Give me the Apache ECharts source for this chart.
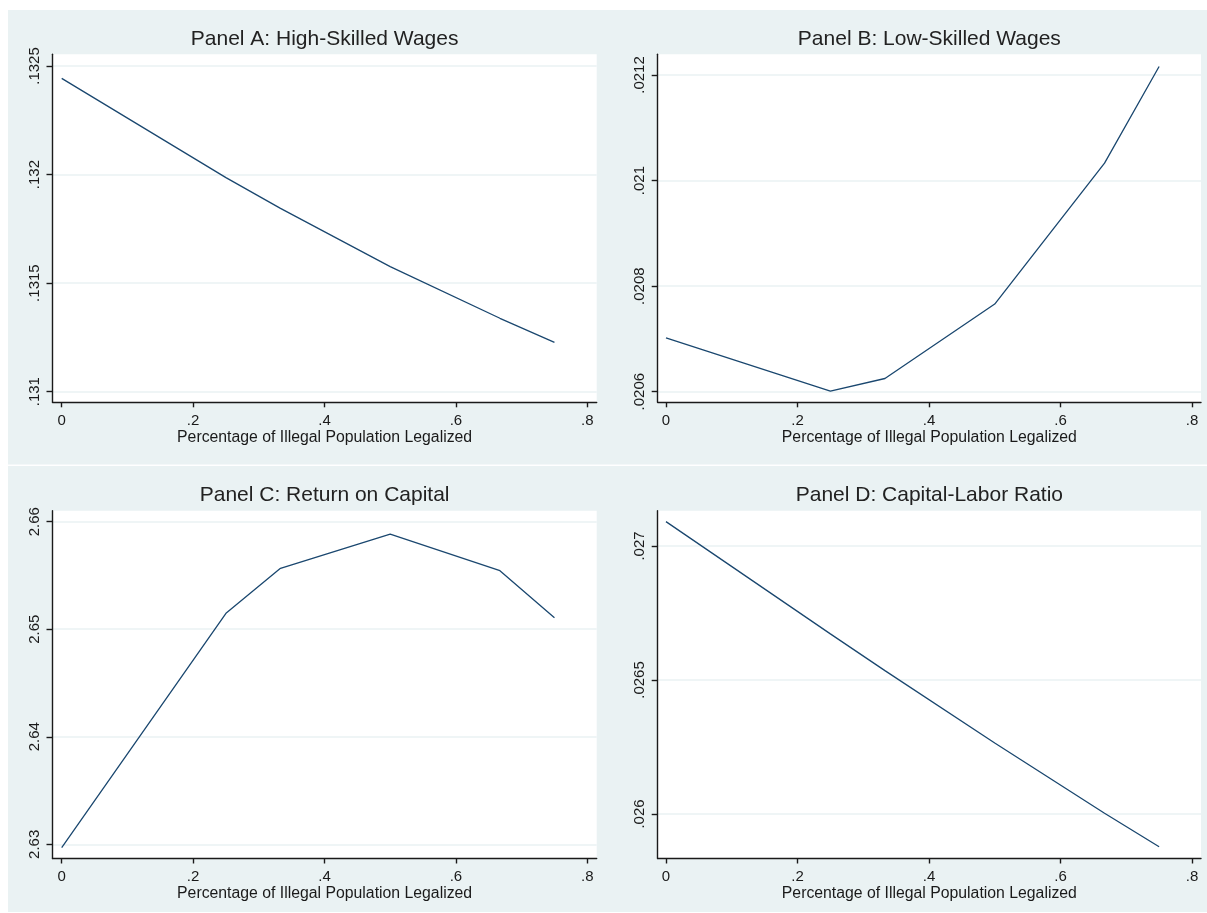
<!DOCTYPE html>
<html>
<head>
<meta charset="utf-8">
<script src="https://cdn.jsdelivr.net/npm/echarts@6/dist/echarts.min.js"></script>
<style>
  html, body { margin: 0; padding: 0; background: #ffffff; }
  #chart { width: 1207px; height: 913px; }
</style>
</head>
<body>
<div id="chart"></div>
<script>
// Share of the illegal population that is legalized
const xValues = [0, 0.25, 0.333, 0.5, 0.667, 0.75];

// Simulated outcomes for each legalization share
const highSkilledWages  = [0.132443, 0.131986, 0.131844, 0.131576, 0.131338, 0.131227];
const lowSkilledWages   = [0.020702, 0.020601, 0.020625, 0.020766, 0.021033, 0.021216];
const returnOnCapital   = [2.62969, 2.65148, 2.65566, 2.65885, 2.65544, 2.65107];
const capitalLaborRatio = [0.027091, 0.026672, 0.026535, 0.026265, 0.026003, 0.025878];

// Tick values and their printed labels
const xTicks = [0, 0.2, 0.4, 0.6, 0.8];
const xTickLabels = ['0', '.2', '.4', '.6', '.8'];
const yTicksA = [0.131, 0.1315, 0.132, 0.1325];
const yLabelsA = ['.131', '.1315', '.132', '.1325'];
const yTicksB = [0.0206, 0.0208, 0.021, 0.0212];
const yLabelsB = ['.0206', '.0208', '.021', '.0212'];
const yTicksC = [2.63, 2.64, 2.65, 2.66];
const yLabelsC = ['2.63', '2.64', '2.65', '2.66'];
const yTicksD = [0.026, 0.0265, 0.027];
const yLabelsD = ['.026', '.0265', '.027'];

const panelTitles = [
  'Panel A: High-Skilled Wages',
  'Panel B: Low-Skilled Wages',
  'Panel C: Return on Capital',
  'Panel D: Capital-Labor Ratio'
];
const xAxisTitle = 'Percentage of Illegal Population Legalized';

// Layout of the 2x2 panel grid (plot regions, in pixels) and padded axis ranges
const panels = [
  { values: highSkilledWages,  ticks: yTicksA, labels: yLabelsA, yMin: 0.130951, yMax: 0.132554,
    left: 52.5, top: 54.3, width: 544.2, height: 348, xMin: -0.0140, xMax: 0.8143 },
  { values: lowSkilledWages,   ticks: yTicksB, labels: yLabelsB, yMin: 0.0205799, yMax: 0.0212392,
    left: 657.7, top: 54.3, width: 543.3, height: 348, xMin: -0.0126, xMax: 0.8137 },
  { values: returnOnCapital,   ticks: yTicksC, labels: yLabelsC, yMin: 2.628679, yMax: 2.661023,
    left: 52.5, top: 510.7, width: 544.2, height: 347.8, xMin: -0.0140, xMax: 0.8143 },
  { values: capitalLaborRatio, ticks: yTicksD, labels: yLabelsD, yMin: 0.025834, yMax: 0.0271317,
    left: 657.7, top: 510.7, width: 543.3, height: 347.8, xMin: -0.0126, xMax: 0.8137 }
];

const BG = '#EAF2F3';
const INK = '#1a1a1a';
const NAVY = '#1A476F';
const FONT = 'Liberation Sans, Arial, sans-serif';

function labelFor(ticks, labels) {
  return function (v) {
    for (let i = 0; i < ticks.length; i++) {
      if (Math.abs(ticks[i] - v) < 1e-9) return labels[i];
    }
    return '';
  };
}

const grids = [], xAxes = [], yAxes = [], series = [], titles = [];

panels.forEach(function (p, i) {
  grids.push({
    left: p.left, top: p.top, width: p.width, height: p.height,
    show: true, backgroundColor: '#ffffff', borderWidth: 0,
    containLabel: false, outerBoundsMode: 'none'
  });

  titles.push({
    text: panelTitles[i],
    left: p.left + p.width / 2,
    top: p.top - 25.5,
    textAlign: 'center',
    padding: 0,
    textStyle: { fontFamily: FONT, fontSize: 21, fontWeight: 'normal', color: '#222222' }
  });

  xAxes.push({
    type: 'value', gridIndex: i, min: p.xMin, max: p.xMax,
    name: xAxisTitle, nameLocation: 'middle', nameGap: 25.5,
    nameTextStyle: { fontFamily: FONT, fontSize: 15.8, color: INK },
    axisLine: { show: true, onZero: false, lineStyle: { color: INK, width: 1.4 } },
    axisTick: { show: true, length: 5, customValues: xTicks, lineStyle: { color: INK, width: 1.4 } },
    axisLabel: { show: true, customValues: xTicks, margin: 11, fontFamily: FONT, fontSize: 15, color: INK,
                 formatter: labelFor(xTicks, xTickLabels) },
    splitLine: { show: false }
  });

  yAxes.push({
    type: 'value', gridIndex: i, min: p.yMin, max: p.yMax,
    axisLine: { show: true, onZero: false, lineStyle: { color: INK, width: 1.4 } },
    axisTick: { show: true, length: 6, customValues: p.ticks, lineStyle: { color: INK, width: 1.4 } },
    axisLabel: { show: true, customValues: p.ticks, rotate: 90, margin: 10, fontFamily: FONT, fontSize: 15,
                 color: INK, formatter: labelFor(p.ticks, p.labels) },
    splitLine: { show: true, lineStyle: { color: BG, width: 1.5 } }
  });

  series.push({
    type: 'line', xAxisIndex: i, yAxisIndex: i,
    data: xValues.map(function (x, k) { return [x, p.values[k]]; }),
    showSymbol: false, symbol: 'none', smooth: false,
    lineStyle: { color: NAVY, width: 1.3 },
    emphasis: { disabled: true },
    animation: false
  });
});

const chart = echarts.init(document.getElementById('chart'), null, { renderer: 'canvas' });
chart.setOption({
  backgroundColor: '#ffffff',
  animation: false,
  tooltip: { show: false },
  // Light panel backdrops behind the two rows of plots
  graphic: [
    { type: 'rect', z: -10, silent: true, shape: { x: 8, y: 10, width: 1199, height: 454.5 }, style: { fill: BG } },
    { type: 'rect', z: -10, silent: true, shape: { x: 8, y: 466, width: 1199, height: 446 }, style: { fill: BG } }
  ],
  title: titles,
  grid: grids,
  xAxis: xAxes,
  yAxis: yAxes,
  series: series
});
</script>
</body>
</html>
